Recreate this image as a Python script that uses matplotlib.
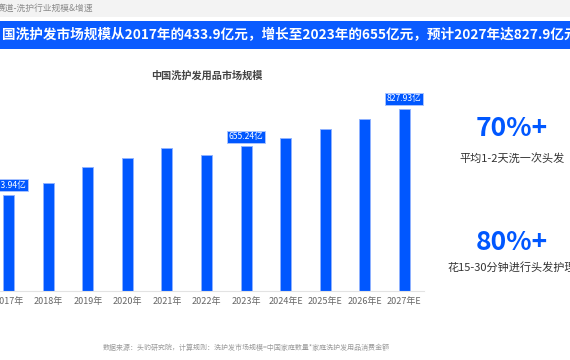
import matplotlib
matplotlib.use("Agg")
import matplotlib.pyplot as plt
from matplotlib.patches import Rectangle

plt.rcParams['font.family'] = ['Noto Sans CJK SC', 'DejaVu Sans']

# data
years = ["2017年", "2018年", "2019年", "2020年", "2021年", "2022年",
         "2023年", "2024年E", "2025年E", "2026年E", "2027年E"]
market = [433.94, 488.7, 562.8, 602.4, 649.3, 615.0,
          655.24, 696.0, 737.0, 780.0, 827.93]
labelled = {0: "433.94亿", 6: "655.24亿", 10: "827.93亿"}

section = "赛道-洗护行业规模&增速"
headline = "国洗护发市场规模从2017年的433.9亿元，增长至2023年的655亿元，预计2027年达827.9亿元"
chart_title = "中国洗护发用品市场规模"
stats = [("70%+", "平均1-2天洗一次头发"), ("80%+", "花15-30分钟进行头发护理")]
source = "数据来源：头豹研究院，计算规则：洗护发市场规模=中国家庭数量*家庭洗护发用品消费金额"

BLUE = "#0057FF"
W, H = 570, 360

fig = plt.figure(figsize=(5.7, 3.6), dpi=100)
fig.patch.set_facecolor("white")

def fx(px):
    return px / W

def fy(py):
    return 1 - py / H

# header strips
fig.add_artist(Rectangle((0, fy(17)), 1, 17 / H, transform=fig.transFigure,
                         facecolor="#f3f3f3", edgecolor="none"))
fig.text(fx(-3), fy(8.5), section, fontsize=6.3, color="#8a8a8a",
         ha="left", va="center")
fig.add_artist(Rectangle((0, fy(49)), 1, 28 / H, transform=fig.transFigure,
                         facecolor="#0A5BFF", edgecolor="none"))
fig.text(fx(2), fy(35), headline, fontsize=9.8, color="white",
         fontweight="bold", ha="left", va="center")

# bar chart
ax = fig.add_axes([fx(-11), fy(290.5), fx(435), 197.8 / H])
x = range(len(years))
ax.bar(x, market, width=0.28, color=BLUE, edgecolor="#8fb2ff", linewidth=0.7)
ax.set_xlim(-0.5, len(years) - 0.5)
ax.set_ylim(0, 900)
ax.set_xticks(list(x))
ax.set_xticklabels(years, fontsize=6.5, color="#666666")
ax.tick_params(axis="x", length=0, pad=5)
ax.set_yticks([])
for side in ["left", "right", "top"]:
    ax.spines[side].set_visible(False)
ax.spines["bottom"].set_color("#e3e3e3")
ax.spines["bottom"].set_linewidth(0.8)
ax.patch.set_alpha(0)

for i, lab in labelled.items():
    ax.annotate(lab, (i, market[i]), xytext=(0, 7), textcoords="offset points",
                ha="center", va="center", fontsize=6.2, color="white",
                bbox=dict(boxstyle="square,pad=0.18", facecolor=BLUE,
                          edgecolor="#a9c3ff", linewidth=0.7))

fig.text(fx(207), fy(76), chart_title, fontsize=7.3, color="#444444",
         fontweight="bold", ha="center", va="center")

# right side stats
for (big, small), ybig, ysmall in zip(stats, [128, 243], [158, 267]):
    fig.text(fx(512), fy(ybig), big, fontsize=19, color=BLUE,
             fontweight="bold", ha="center", va="center")
    fig.text(fx(512), fy(ysmall), small, fontsize=8, color="#333333",
             ha="center", va="center")

fig.text(fx(246), fy(348), source, fontsize=5, color="#9a9a9a",
         ha="center", va="center")

fig.savefig("out.png", dpi=100)
